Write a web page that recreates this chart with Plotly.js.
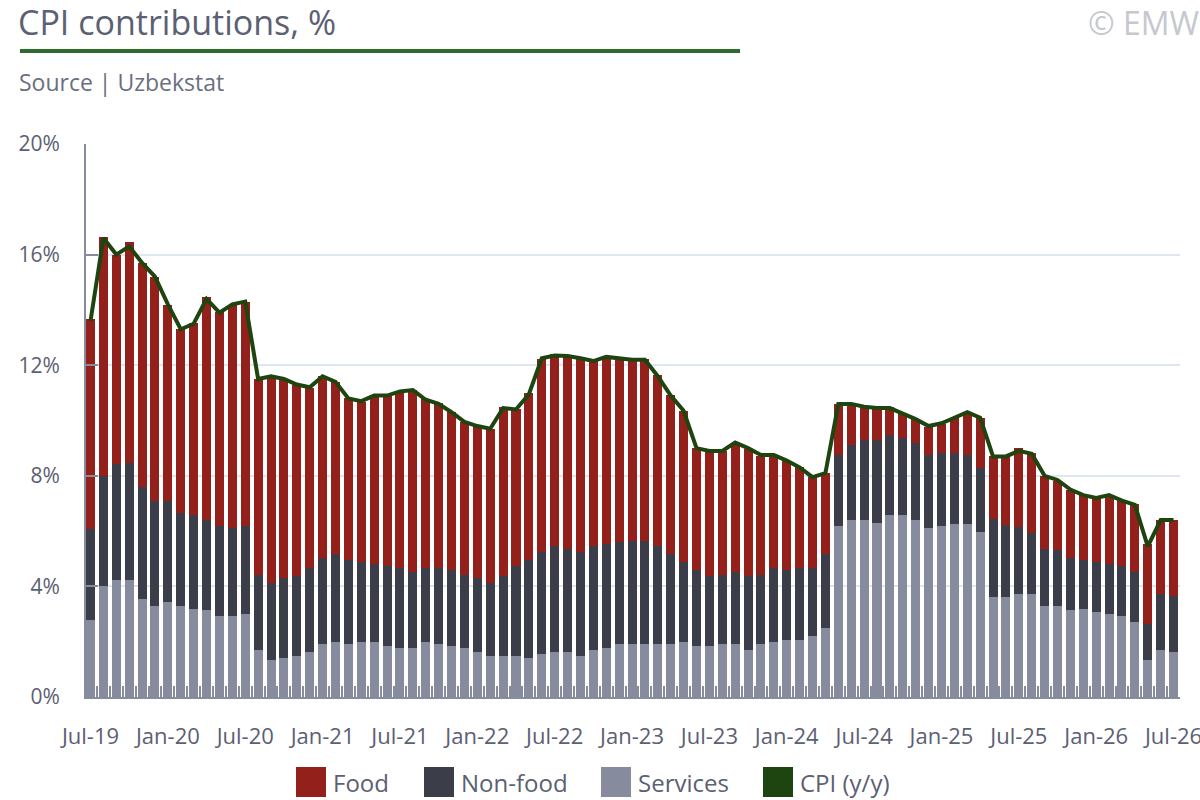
<!DOCTYPE html>
<html>
<head>
<meta charset="utf-8">
<script src="https://cdn.plot.ly/plotly-3.0.1.min.js"></script>
<style>
  html, body { margin: 0; padding: 0; background: #fff; }
  #chart { width: 1200px; height: 800px; }
</style>
</head>
<body>
<div id="chart"></div>
<script>
// CPI contributions by component, percentage points (Uzbekstat).

const months = [
  "Jul-19", "Aug-19", "Sep-19", "Oct-19", "Nov-19", "Dec-19",
  "Jan-20", "Feb-20", "Mar-20", "Apr-20", "May-20", "Jun-20", "Jul-20", "Aug-20", "Sep-20", "Oct-20", "Nov-20", "Dec-20",
  "Jan-21", "Feb-21", "Mar-21", "Apr-21", "May-21", "Jun-21", "Jul-21", "Aug-21", "Sep-21", "Oct-21", "Nov-21", "Dec-21",
  "Jan-22", "Feb-22", "Mar-22", "Apr-22", "May-22", "Jun-22", "Jul-22", "Aug-22", "Sep-22", "Oct-22", "Nov-22", "Dec-22",
  "Jan-23", "Feb-23", "Mar-23", "Apr-23", "May-23", "Jun-23", "Jul-23", "Aug-23", "Sep-23", "Oct-23", "Nov-23", "Dec-23",
  "Jan-24", "Feb-24", "Mar-24", "Apr-24", "May-24", "Jun-24", "Jul-24", "Aug-24", "Sep-24", "Oct-24", "Nov-24", "Dec-24",
  "Jan-25", "Feb-25", "Mar-25", "Apr-25", "May-25", "Jun-25", "Jul-25", "Aug-25", "Sep-25", "Oct-25", "Nov-25", "Dec-25",
  "Jan-26", "Feb-26", "Mar-26", "Apr-26", "May-26", "Jun-26", "Jul-26",
];

const tickLabels = [
  "Jul-19", "Jan-20", "Jul-20", "Jan-21", "Jul-21", "Jan-22", "Jul-22", "Jan-23",
  "Jul-23", "Jan-24", "Jul-24", "Jan-25", "Jul-25", "Jan-26", "Jul-26",
];

const yTickVals = [0, 4, 8, 12, 16, 20];
const yTickText = ["0%", "4%", "8%", "12%", "16%", "20%"];

const services = [
  2.77, 4.01, 4.22, 4.22, 3.55, 3.28,
  3.42, 3.28, 3.20, 3.13, 2.92, 2.92, 2.99, 1.69, 1.33, 1.40, 1.47, 1.61,
  1.90, 1.98, 1.90, 1.98, 1.98, 1.83, 1.76, 1.76, 1.98, 1.90, 1.83, 1.76,
  1.61, 1.47, 1.47, 1.47, 1.40, 1.54, 1.61, 1.61, 1.47, 1.69, 1.76, 1.90,
  1.90, 1.90, 1.90, 1.90, 1.98, 1.83, 1.83, 1.90, 1.90, 1.69, 1.90, 1.98,
  2.05, 2.05, 2.19, 2.48, 6.17, 6.39, 6.39, 6.31, 6.60, 6.60, 6.39, 6.10,
  6.17, 6.24, 6.24, 5.95, 3.62, 3.63, 3.71, 3.71, 3.28, 3.28, 3.13, 3.20,
  3.06, 2.99, 2.92, 2.70, 1.33, 1.69, 1.61,
];

const nonFood = [
  3.31, 3.97, 4.19, 4.26, 4.05, 3.82,
  3.68, 3.39, 3.40, 3.26, 3.25, 3.18, 3.18, 2.74, 2.81, 2.89, 2.89, 3.04,
  3.11, 3.18, 3.04, 2.89, 2.82, 2.89, 2.89, 2.75, 2.67, 2.75, 2.75, 2.67,
  2.68, 2.67, 2.89, 3.25, 3.54, 3.69, 3.84, 3.76, 3.76, 3.76, 3.76, 3.69,
  3.76, 3.76, 3.55, 3.26, 2.89, 2.75, 2.53, 2.53, 2.61, 2.67, 2.53, 2.67,
  2.53, 2.60, 2.46, 2.68, 2.60, 2.74, 2.89, 2.97, 2.89, 2.75, 2.81, 2.67,
  2.67, 2.60, 2.53, 2.32, 2.82, 2.60, 2.45, 2.23, 2.09, 2.02, 1.88, 1.74,
  1.81, 1.81, 1.80, 1.81, 1.30, 2.02, 2.03,
];

const food = [
  7.59, 8.67, 7.59, 7.97, 8.11, 8.10,
  7.09, 6.64, 6.93, 8.09, 7.75, 8.08, 8.10, 7.08, 7.43, 7.21, 6.93, 6.52,
  6.59, 6.23, 5.88, 5.79, 6.10, 6.18, 6.40, 6.61, 6.11, 5.98, 5.72, 5.53,
  5.53, 5.56, 6.13, 5.68, 6.06, 7.00, 6.94, 6.96, 7.07, 6.72, 6.78, 6.66,
  6.53, 6.57, 6.21, 5.78, 5.49, 4.42, 4.52, 4.46, 4.69, 4.62, 4.30, 4.11,
  3.94, 3.66, 3.30, 2.95, 1.81, 1.50, 1.23, 1.19, 0.99, 0.92, 0.86, 1.01,
  1.04, 1.24, 1.51, 1.81, 2.26, 2.52, 2.83, 2.90, 2.61, 2.52, 2.48, 2.37,
  2.32, 2.51, 2.38, 2.47, 2.89, 2.68, 2.75,
];

const cpi = [
  13.6, 16.6, 16.0, 16.3, 15.7, 15.2,
  14.2, 13.3, 13.5, 14.4, 13.9, 14.2, 14.3, 11.5, 11.6, 11.5, 11.3, 11.2,
  11.6, 11.4, 10.8, 10.7, 10.9, 10.9, 11.05, 11.1, 10.75, 10.6, 10.3, 9.95,
  9.8, 9.7, 10.45, 10.4, 10.95, 12.25, 12.35, 12.33, 12.25, 12.15, 12.3, 12.25,
  12.2, 12.2, 11.6, 10.9, 10.35, 9.0, 8.9, 8.9, 9.2, 9.0, 8.75, 8.75,
  8.55, 8.3, 7.95, 8.1, 10.6, 10.6, 10.5, 10.45, 10.45, 10.25, 10.05, 9.8,
  9.9, 10.1, 10.3, 10.1, 8.7, 8.7, 8.9, 8.8, 8.0, 7.85, 7.5, 7.3,
  7.2, 7.3, 7.1, 6.95, 5.45, 6.4, 6.4,
];

const COLORS = {
  food: "#93201a",
  nonFood: "#3b3e48",
  services: "#878b9e",
  cpi: "#1e4410",
  text: "#5b6072",
  grid: "#dde6f2",
  axis: "#878b9e",
  accent: "#2e6b2e",
};
const FONT = "'Open Sans', Lato, sans-serif";

// plot area in pixels (matches margins below)
const M = { l: 86, r: 20, t: 144, b: 103 };
const W = 1200, H = 800;
const PW = W - M.l - M.r, PH = H - M.t - M.b;
const px = (x) => (x - M.l) / PW;
const py = (y) => (H - M.b - y) / PH;

const bar = (name, y, color) => ({
  type: "bar", name, x: months, y,
  marker: { color, line: { width: 0 } },
  showlegend: false, hoverinfo: "x+y+name",
});

const traces = [
  bar("Services", services, COLORS.services),
  bar("Non-food", nonFood, COLORS.nonFood),
  bar("Food", food, COLORS.food),
  {
    type: "scatter", mode: "lines", name: "CPI (y/y)",
    x: months, y: cpi,
    line: { color: COLORS.cpi, width: 4 },
    showlegend: false,
  },
];

// custom legend: big squares like the original
const legendItems = [
  { name: "Food", color: COLORS.food, x: 296 },
  { name: "Non-food", color: COLORS.nonFood, x: 424 },
  { name: "Services", color: COLORS.services, x: 601 },
  { name: "CPI (y/y)", color: COLORS.cpi, x: 763 },
];

const shapes = [
  {
    type: "line", xref: "paper", yref: "paper",
    x0: px(20), x1: px(740), y0: py(51), y1: py(51),
    line: { color: COLORS.accent, width: 4 },
  },
];
const annotations = [
  {
    text: "CPI contributions, %", xref: "paper", yref: "paper",
    x: px(16), y: py(22), xanchor: "left", yanchor: "middle", showarrow: false,
    font: { family: FONT, size: 34, color: COLORS.text },
  },
  {
    text: "Source | Uzbekstat", xref: "paper", yref: "paper",
    x: px(17), y: py(82), xanchor: "left", yanchor: "middle", showarrow: false,
    font: { family: FONT, size: 23, color: "#6a6f80" },
  },
  {
    text: "© EMW", xref: "paper", yref: "paper",
    x: px(1202), y: py(22), xanchor: "right", yanchor: "middle", showarrow: false,
    font: { family: FONT, size: 32, color: "#c5c8cf" },
  },
];
legendItems.forEach((it) => {
  shapes.push({
    type: "rect", xref: "paper", yref: "paper",
    x0: px(it.x), x1: px(it.x + 30), y0: py(797), y1: py(767),
    fillcolor: it.color, line: { width: 0 },
  });
  annotations.push({
    text: it.name, xref: "paper", yref: "paper",
    x: px(it.x + 35), y: py(782), xanchor: "left", yanchor: "middle", showarrow: false,
    font: { family: FONT, size: 24, color: COLORS.text },
  });
});

const layout = {
  width: W, height: H,
  margin: M,
  paper_bgcolor: "#fff",
  plot_bgcolor: "#fff",
  barmode: "stack",
  bargap: 0.3,
  showlegend: false,
  font: { family: FONT, color: COLORS.text, size: 20 },
  xaxis: {
    type: "category",
    range: [-0.35, 84.5],
    tickmode: "array",
    tickvals: months,
    ticktext: months.map((m) => (tickLabels.includes(m) ? m : "")),
    tickson: "boundaries",
    ticks: "inside", ticklen: 11, tickwidth: 2, tickcolor: COLORS.axis,
    ticklabelstandoff: 19,
    tickfont: { family: FONT, size: 22, color: COLORS.text },
    tickangle: 0,
    showline: true, linecolor: COLORS.axis, linewidth: 2,
    showgrid: false, zeroline: false,
  },
  yaxis: {
    range: [0, 20],
    tickmode: "array",
    tickvals: yTickVals,
    ticktext: yTickText,
    ticks: "inside", ticklen: 12, tickwidth: 2, tickcolor: COLORS.axis,
    ticklabelstandoff: 20,
    tickfont: { family: FONT, size: 21, color: COLORS.text },
    showline: true, linecolor: COLORS.axis, linewidth: 2,
    showgrid: true, gridcolor: COLORS.grid, gridwidth: 2,
    zeroline: false,
  },
  shapes,
  annotations,
};

Plotly.newPlot("chart", traces, layout, { displayModeBar: false, responsive: false });
</script>
</body>
</html>
